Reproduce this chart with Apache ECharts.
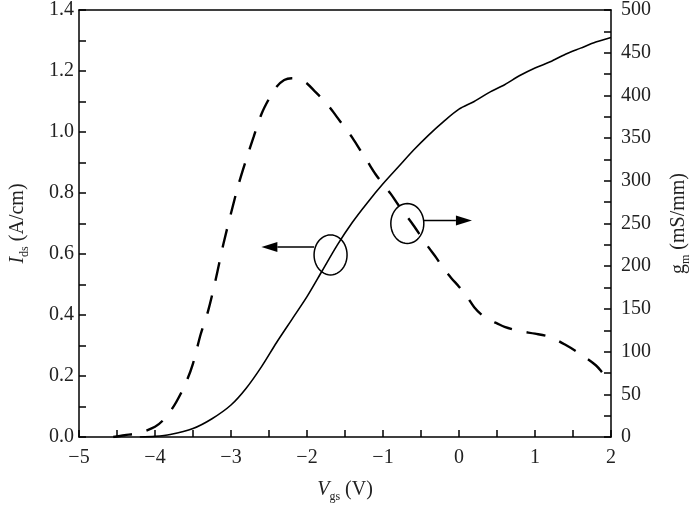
<!DOCTYPE html>
<html><head><meta charset="utf-8">
<script src="https://cdn.jsdelivr.net/npm/echarts@6/dist/echarts.min.js"></script>
<style>html,body{margin:0;padding:0;background:#fff}#c{width:700px;height:512px}</style>
</head><body><div id="c"></div>
<script>
const vgsIds = [-4.2,-4.0,-3.8,-3.5,-3.25,-3.0,-2.8,-2.6,-2.4,-2.2,-2.0,-1.8,-1.6,-1.4,-1.2,-1.0,-0.8,-0.6,-0.4,-0.2,0,0.2,0.4,0.6,0.8,1.0,1.2,1.4,1.6,1.8,2.0];
const ids = [0,0.002,0.008,0.028,0.06,0.105,0.16,0.23,0.31,0.385,0.46,0.545,0.63,0.705,0.77,0.83,0.885,0.94,0.99,1.035,1.075,1.10,1.13,1.155,1.185,1.21,1.23,1.255,1.275,1.295,1.31];
const vgsGm = [-4.55,-4.4,-4.2,-4.0,-3.9,-3.8,-3.72,-3.6,-3.5,-3.4,-3.3,-3.2,-3.1,-3.0,-2.9,-2.8,-2.7,-2.6,-2.5,-2.4,-2.3,-2.2,-2.1,-2.0,-1.9,-1.8,-1.7,-1.6,-1.5,-1.4,-1.3,-1.2,-1.1,-1.0,-0.9,-0.8,-0.7,-0.6,-0.5,-0.4,-0.3,-0.2,-0.1,0,0.1,0.2,0.3,0.4,0.5,0.6,0.8,1.0,1.2,1.4,1.6,1.8,1.9,2.0];
const gm = [0,2,5,12,19,30,41,62,86,120,148,185,226,262,296,325,352,378,396,410,418,420,419,414,405,396,386,374,362,350,336,322,308,296,285,272,260,248,235,222,210,197,186,176,165,152,143,137,133,129,124,121,117,108,97,84,74,64];
const xLabels = [-5,-4,-3,-2,-1,0,1,2];
const idsLabels = [0,0.2,0.4,0.6,0.8,1.0,1.2,1.4];
const gmLabels = [0,50,100,150,200,250,300,350,400,450,500];
// annotation anchors in data coords (x, Ids)
const leftMark = {cx:-1.69, cy:0.597, tipX:-2.6};
const rightMark = {cx:-0.68, cy:0.70, tipX:0.17};

const FONT = 'Liberation Serif';
const chart = echarts.init(document.getElementById('c'));
const near = (v, arr) => arr.some(a => Math.abs(a - v) < 1e-6);
const axisCommon = {
  axisLine:{show:true,onZero:false,lineStyle:{color:'#000',width:1.5}},
  axisTick:{show:true,inside:true,length:7,lineStyle:{color:'#000',width:1.5}},
  splitLine:{show:false}
};
const lbl = {color:'#222',fontFamily:FONT,fontSize:20};
const richName = (italic) => ({rich:{
  i:{fontFamily:FONT,fontStyle:italic?'italic':'normal',fontSize:20,color:'#222'},
  s:{fontFamily:FONT,fontSize:12,color:'#222',padding:[14,0,0,0]},
  n:{fontFamily:FONT,fontSize:20,color:'#222'}}});
chart.setOption({
  animation:false,
  grid:{left:79,right:83,top:10,bottom:75},
  xAxis:[
    Object.assign({}, axisCommon, {type:'value',min:-5,max:2,interval:0.5,position:'bottom',
      axisLabel:Object.assign({},lbl,{margin:11,formatter:v=>near(v,xLabels)?String(v).replace('-', '\u2212'):''}),
      name:'{i|V}{s|gs}{n| (V)}',nameLocation:'middle',nameGap:40,nameTextStyle:richName(true)}),
    {type:'value',min:-5,max:2,position:'top',axisLine:{show:true,onZero:false,lineStyle:{color:'#000',width:1.5}},axisTick:{show:false},axisLabel:{show:false},splitLine:{show:false}}
  ],
  yAxis:[
    Object.assign({}, axisCommon, {type:'value',min:0,max:1.4,interval:0.1,position:'left',
      axisLabel:Object.assign({},lbl,{margin:5,formatter:v=>near(v,idsLabels)?v.toFixed(1):''}),
      name:'{i|I}{s|ds}{n| (A/cm)}',nameLocation:'middle',nameGap:48,nameTextStyle:richName(true)}),
    Object.assign({}, axisCommon, {type:'value',min:0,max:500,interval:25,position:'right',
      axisLabel:Object.assign({},lbl,{margin:10,formatter:v=>near(v,gmLabels)?String(v):''}),
      name:'{i|g}{s|m}{n| (mS/mm)}',nameLocation:'middle',nameGap:55,nameRotate:90,nameTextStyle:richName(false)})
  ],
  series:[
    {type:'line',xAxisIndex:0,yAxisIndex:0,data:vgsIds.map((x,i)=>[x,ids[i]]),smooth:0.3,showSymbol:false,
      lineStyle:{color:'#000',width:1.6}},
    {type:'line',xAxisIndex:0,yAxisIndex:1,data:vgsGm.map((x,i)=>[x,gm[i]]),smooth:0.3,showSymbol:false,
      lineStyle:{color:'#000',width:2.4,type:[19,15]}}
  ]
});

function ellipsePts(cx,cy,rx,ry){const p=[];for(let k=0;k<48;k++){const a=k/48*Math.PI*2;p.push([cx+rx*Math.cos(a),cy+ry*Math.sin(a)]);}return p;}
function mark(m, dir){
  const c = chart.convertToPixel({xAxisIndex:0,yAxisIndex:0},[m.cx,m.cy]);
  const tip = chart.convertToPixel({xAxisIndex:0,yAxisIndex:0},[m.tipX,m.cy]);
  const rx=16.5, ry=20;
  const ay = c[1] - (dir<0?8:3);
  const startX = c[0] + dir*rx;
  const headLen = 16;
  const baseX = tip[0] - dir*headLen;
  return [
    {type:'polygon',shape:{points:ellipsePts(c[0],c[1],rx,ry)},style:{fill:null,stroke:'#000',lineWidth:1.5},z:10},
    {type:'line',shape:{x1:startX,y1:ay,x2:baseX,y2:ay},style:{stroke:'#000',lineWidth:1.5},z:10},
    {type:'polygon',shape:{points:[[tip[0],ay],[baseX,ay-5],[baseX,ay+5]]},style:{fill:'#000'},z:10}
  ];
}
chart.setOption({graphic:[].concat(mark(leftMark,-1),mark(rightMark,1))});
</script></body></html>
